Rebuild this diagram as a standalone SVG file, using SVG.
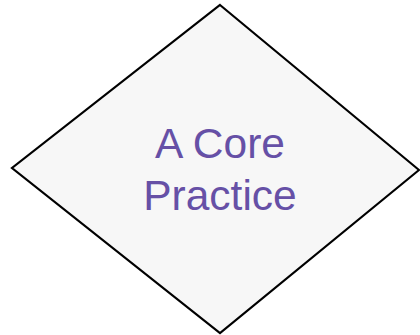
<svg xmlns="http://www.w3.org/2000/svg" width="420" height="335" viewBox="0 0 420 335">
  <style>
    .shape { fill: #f7f7f7; stroke: #000000; stroke-width: 2.2; stroke-linejoin: miter; }
    .label { font-family: "Liberation Sans", Arial, sans-serif; font-size: 42.5px; fill: #6650a6; text-anchor: middle; }
  </style>
  <rect width="420" height="335" fill="#ffffff"/>
  <g id="core-practice">
    <polygon class="shape" points="220,5 419,170 220,333 12,168"/>
    <text class="label" x="220" y="158">A Core</text>
    <text class="label" x="220" y="210">Practice</text>
  </g>
</svg>
